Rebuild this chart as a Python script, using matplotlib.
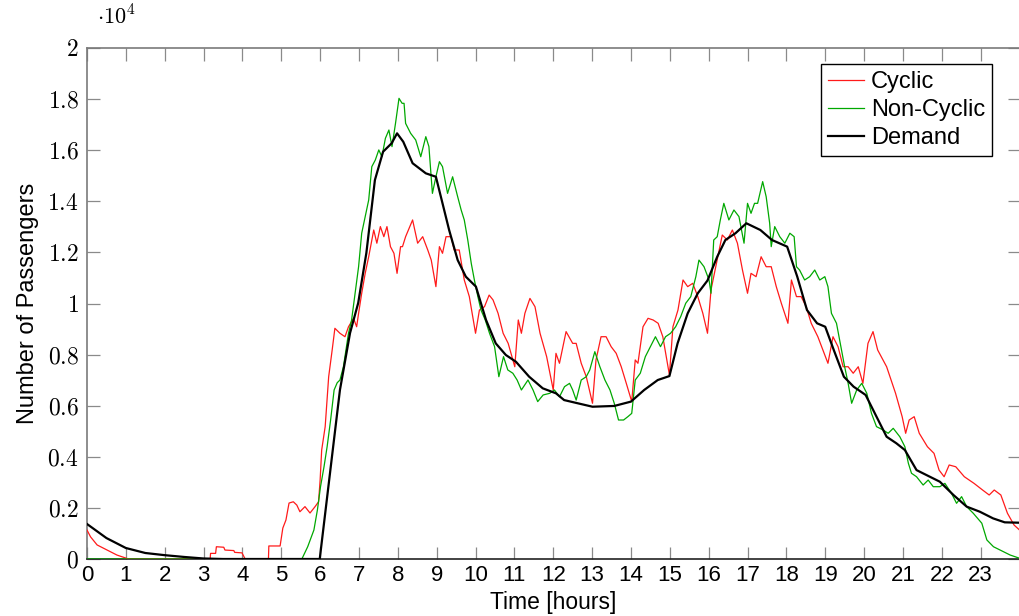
import matplotlib
matplotlib.use("Agg")
import matplotlib.pyplot as plt
from matplotlib.ticker import FuncFormatter

plt.rcParams['mathtext.fontset'] = 'cm'
plt.rcParams['font.family'] = ['Liberation Sans', 'DejaVu Sans']

# ---------------- data ----------------
cyclic_hours = [0.0, 0.09, 0.26, 0.52, 0.77, 0.94, 1.07, 3.17, 3.18, 3.31, 3.33, 3.52, 3.55, 3.78, 3.8, 3.99,
                4.04, 4.07, 4.67, 4.68, 4.97, 5.0, 5.04, 5.12, 5.2, 5.31, 5.4, 5.48, 5.61, 5.74, 5.87, 5.96,
                6.0, 6.04, 6.13, 6.22, 6.31, 6.38, 6.51, 6.64, 6.73, 6.86, 6.94, 6.99, 7.07, 7.16, 7.25, 7.38,
                7.46, 7.55, 7.64, 7.72, 7.81, 7.9, 7.98, 8.07, 8.12, 8.2, 8.38, 8.51, 8.64, 8.77, 8.86, 8.98,
                9.07, 9.15, 9.24, 9.37, 9.45, 9.58, 9.71, 9.84, 10.0, 10.1, 10.23, 10.35, 10.45, 10.58, 10.71,
                10.84, 11.01, 11.1, 11.18, 11.27, 11.4, 11.53, 11.66, 11.83, 12.0, 12.07, 12.16, 12.33, 12.5,
                12.59, 12.72, 12.85, 13.01, 13.1, 13.23, 13.36, 13.49, 13.62, 13.75, 13.88, 14.02, 14.11,
                14.18, 14.31, 14.44, 14.57, 14.7, 14.82, 14.99, 15.08, 15.21, 15.34, 15.46, 15.59, 15.72,
                15.85, 15.97, 16.06, 16.13, 16.22, 16.35, 16.48, 16.61, 16.74, 16.87, 17.0, 17.09, 17.22,
                17.35, 17.48, 17.61, 17.74, 17.87, 18.04, 18.13, 18.26, 18.38, 18.51, 18.64, 18.81, 18.94,
                19.07, 19.2, 19.33, 19.46, 19.59, 19.72, 19.85, 19.97, 20.1, 20.23, 20.35, 20.58, 20.81,
                20.98, 21.07, 21.16, 21.29, 21.42, 21.63, 21.8, 21.93, 22.06, 22.19, 22.36, 22.58, 22.83,
                23.05, 23.22, 23.35, 23.52, 23.69, 23.86, 24.0]
cyclic_values = [1135, 870, 550, 350, 155, 65, 0, 0, 220, 220, 480, 460, 350, 330, 260, 240,
                 90, 0, 0, 510, 510, 820, 1210, 1525, 2190, 2240, 2110, 1850, 2050, 1800, 2050, 2240,
                 3090, 4265, 5180, 7135, 8180, 9030, 8835, 8700, 9090, 9420, 9090, 9615, 10400, 11180, 11830, 12877,
                 12360, 13010, 12615, 13010, 12225, 11965, 11180, 12225, 12225, 12615, 13270, 12360, 12615, 12095, 11700, 10660,
                 12225, 11965, 12615, 12615, 12095, 12095, 10920, 10270, 8835, 9745, 9875, 10330, 10140, 9615, 8835,
                 8440, 7525, 9355, 8835, 9615, 10200, 9875, 8835, 7920, 6615, 8050, 7660, 8900, 8440,
                 8440, 7660, 7135, 6095, 7790, 8700, 8700, 8310, 8050, 7525, 6875, 6160, 7790,
                 7660, 9090, 9420, 9355, 9225, 8700, 7200, 9090, 9745, 10920, 10660, 10790, 10270,
                 9615, 8835, 10530, 11050, 11700, 12680, 12485, 12877, 12360, 11310, 10400, 11180, 11050,
                 11830, 11440, 11440, 10660, 10010, 9225, 10920, 10270, 10270, 9875, 9225, 8700, 8180,
                 7660, 8700, 8310, 7525, 7525, 7270, 7525, 6875, 8440, 8900, 8180, 7525, 6485,
                 5570, 4920, 5440, 5570, 4920, 4395, 4135, 3480, 3220, 3680, 3610, 3220, 2960,
                 2700, 2505, 2700, 2505, 1790, 1330, 1135]

noncyclic_hours = [0.0, 5.53, 5.6, 5.68, 5.76, 5.84, 5.93, 6.01, 6.1, 6.18, 6.27, 6.36, 6.44, 6.51, 6.6, 6.73,
                   6.81, 6.9, 6.99, 7.07, 7.16, 7.25, 7.33, 7.42, 7.51, 7.59, 7.68, 7.77, 7.85, 7.94, 8.03,
                   8.11, 8.16, 8.2, 8.33, 8.46, 8.59, 8.72, 8.8, 8.89, 8.98, 9.07, 9.15, 9.28, 9.41, 9.54,
                   9.63, 9.71, 9.8, 9.89, 9.97, 10.06, 10.14, 10.25, 10.36, 10.49, 10.6, 10.72, 10.83, 10.96,
                   11.07, 11.18, 11.35, 11.48, 11.6, 11.74, 11.91, 12.03, 12.16, 12.29, 12.42, 12.5, 12.59,
                   12.72, 12.85, 12.94, 13.07, 13.2, 13.33, 13.46, 13.57, 13.68, 13.81, 13.92, 14.02, 14.11,
                   14.24, 14.37, 14.5, 14.63, 14.76, 14.89, 15.02, 15.15, 15.28, 15.41, 15.54, 15.67, 15.75,
                   15.88, 16.01, 16.06, 16.13, 16.22, 16.3, 16.39, 16.52, 16.65, 16.78, 16.91, 17.0, 17.09,
                   17.18, 17.26, 17.39, 17.48, 17.57, 17.61, 17.7, 17.83, 17.96, 18.09, 18.2, 18.26, 18.34,
                   18.47, 18.6, 18.73, 18.86, 18.99, 19.07, 19.16, 19.29, 19.42, 19.5, 19.59, 19.68, 19.81,
                   19.94, 20.07, 20.19, 20.32, 20.49, 20.62, 20.75, 20.92, 21.05, 21.14, 21.22, 21.35, 21.52,
                   21.65, 21.78, 21.95, 22.08, 22.25, 22.38, 22.51, 22.64, 22.81, 23.03, 23.16, 23.33, 23.5,
                   23.76, 24.0]
noncyclic_values = [0, 0, 220, 480, 810, 1135, 1920, 2830, 3610, 4395, 5440, 6615, 6900, 7005, 7525, 8835,
                    9355, 10400, 11440, 12750, 13400, 14050, 15355, 15615, 16010, 15745, 16465, 16790, 16140, 17050, 18030,
                    17835, 17835, 17050, 16660, 16400, 15745, 16530, 16140, 14310, 14960, 15550, 15355, 14310, 14960, 14180,
                    13660, 13270, 12485, 11570, 10920, 10270, 9745, 9355, 8835, 8310, 7135, 7920, 7400, 7270,
                    7005, 6615, 7005, 6615, 6160, 6420, 6485, 6615, 6350, 6745, 6875, 6615, 6220,
                    7005, 7135, 7400, 8115, 7525, 7005, 6615, 6095, 5440, 5440, 5570, 5700, 7005,
                    7270, 7920, 8310, 8700, 8310, 8700, 8835, 9090, 9485, 10010, 10270, 11050, 11700,
                    11440, 10920, 10400, 12485, 12615, 13270, 13920, 13270, 13660, 13400, 12360, 13920, 13530,
                    13920, 13920, 14770, 14180, 13140, 12225, 13010, 12615, 12360, 12750, 12615, 11440, 11310,
                    10920, 11050, 11310, 10920, 11050, 10660, 9615, 9225, 8180, 7525, 6875, 6095, 6615,
                    6875, 6485, 5700, 5180, 5050, 4920, 5115, 4785, 4395, 3745, 3355, 3220, 2895,
                    3090, 2830, 2830, 2960, 2570, 2180, 2440, 2050, 1790, 1400, 745, 480, 350,
                    155, 30]

demand_hours = [0.0, 0.5, 1.0, 1.5, 2.0, 2.5, 3.0, 3.5, 5.99, 6.51, 6.77, 6.98, 7.19, 7.41, 7.62, 7.84, 7.98,
                8.14, 8.38, 8.72, 8.98, 9.15, 9.32, 9.54, 9.75, 10.01, 10.27, 10.52, 10.78, 11.04, 11.38,
                11.73, 12.07, 12.28, 12.63, 13.01, 13.57, 14.0, 14.34, 14.69, 14.99, 15.2, 15.46, 15.72,
                15.97, 16.22, 16.43, 16.69, 16.97, 17.33, 17.63, 18.02, 18.28, 18.53, 18.79, 19.0, 19.22,
                19.48, 19.73, 20.04, 20.32, 20.58, 20.83, 21.05, 21.35, 21.6, 21.95, 22.3, 22.64, 22.98,
                23.32, 23.62, 24.0]
demand_values = [1370, 820, 430, 235, 150, 80, 20, 0, 0, 6615, 8845, 10020, 11977, 14834, 15940, 16270, 16660,
                 16330, 15490, 15095, 14960, 13920, 12877, 11700, 11050, 10660, 9355, 8440, 7985, 7720, 7135,
                 6680, 6485, 6220, 6095, 5960, 5990, 6160, 6615, 7005, 7160, 8440, 9615, 10400,
                 10900, 11830, 12485, 12750, 13140, 12877, 12485, 12225, 11050, 9745, 9225, 9090, 8180,
                 7135, 6745, 6420, 5570, 4785, 4530, 4265, 3480, 3290, 3025, 2505, 2050, 1850,
                 1590, 1435, 1420]

x_ticks = list(range(0, 24))
y_ticks = list(range(0, 20001, 2000))
series_labels = ["Cyclic", "Non-Cyclic", "Demand"]

# ---------------- figure ----------------
W, H = 1019, 616
fig = plt.figure(figsize=(W / 100, H / 100), dpi=100)
ax = fig.add_axes([87 / W, (H - 559) / H, 932.5 / W, 511 / H])

red = '#ff1a1a'
green = '#00a800'
ax.plot(cyclic_hours, cyclic_values, color=red, lw=0.9, label=series_labels[0], zorder=3)
ax.plot(noncyclic_hours, noncyclic_values, color=green, lw=0.9, label=series_labels[1], zorder=4)
ax.plot(demand_hours, demand_values, color='black', lw=1.6, label=series_labels[2], zorder=5)

ax.set_xlim(0, 24)
ax.set_ylim(0, 20000)
ax.set_xticks(x_ticks)
ax.set_yticks(y_ticks)
ax.yaxis.set_major_formatter(FuncFormatter(lambda v, p: r"$%g$" % (v / 1e4)))

ax.tick_params(axis='both', which='major', direction='in', length=9, width=0.9, color='#8a8a8a',
               top=True, right=True)
ax.tick_params(axis='x', labelsize=16, pad=4)
ax.tick_params(axis='y', labelsize=17, pad=6)

for s in ['left', 'top']:
    ax.spines[s].set_color('#7a7a7a')
    ax.spines[s].set_linewidth(1.2)
ax.spines['bottom'].set_color('#222222')
ax.spines['bottom'].set_linewidth(1.2)
ax.spines['right'].set_visible(False)

ax.set_xlabel("Time [hours]", fontsize=16.5, labelpad=4)
ax.set_ylabel("Number of Passengers", fontsize=17, labelpad=6)

ax.text(0.031, 1.06, r"$\cdot 10^4$", transform=ax.transAxes, fontsize=16, ha='center', va='center')

leg = ax.legend(loc='upper right', bbox_to_anchor=((992 - 87) / 932.5, (559 - 64) / 511),
                fontsize=17, frameon=True, fancybox=False, framealpha=1, edgecolor='black',
                handlelength=1.5, handletextpad=0.3, borderpad=0.3, labelspacing=0.25,
                borderaxespad=0)
leg.get_frame().set_linewidth(1.0)
leg.set_zorder(10)

fig.savefig("out.png", dpi=100)
